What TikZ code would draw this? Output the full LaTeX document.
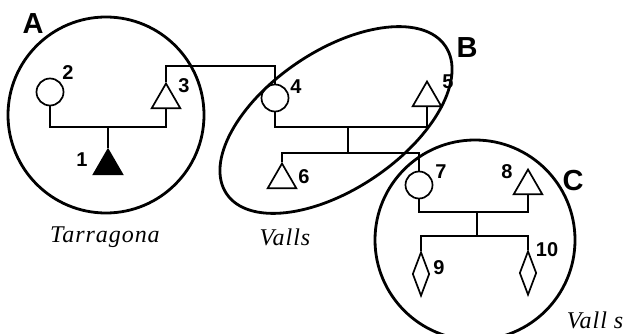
\documentclass[tikz,border=0pt]{standalone}
\usepackage{fontspec}
\setmainfont{Liberation Serif}
\setsansfont{Liberation Sans}
\usepackage{tikz}
\usetikzlibrary{shapes.geometric,positioning}
\tikzset{
  groupring/.style={draw, line width=2.8pt, inner sep=0pt},
  femalenode/.style={circle, draw, line width=1.7pt, minimum size=27pt, inner sep=0pt},
  malenode/.style={regular polygon, regular polygon sides=3, draw, line width=1.7pt,
    minimum size=33pt, inner sep=0pt},
  probandnode/.style={malenode, fill=black},
  unknownnode/.style={diamond, draw, line width=1.7pt, aspect=0.38,
    minimum width=17pt, minimum height=44pt, inner sep=0pt},
  tie/.style={line width=2pt},
  numtext/.style={font=\sffamily\bfseries\fontsize{20}{20}\selectfont, inner sep=0pt},
  grouptext/.style={font=\sffamily\bfseries\fontsize{29}{29}\selectfont, inner sep=0pt},
  placetext/.style={font=\itshape\fontsize{24}{24}\selectfont\addfontfeature{LetterSpace=4}, inner sep=0pt}
}

\begin{document}
\begin{tikzpicture}[x=1pt, y=-1pt]
\useasboundingbox (0,0) rectangle (628,334);

% family groups
\node[groupring, circle, minimum size=196pt] (grpA) at (106,115) {};
\node[groupring, ellipse, rotate=34, minimum width=264pt, minimum height=138pt] (grpB) at (336,120) {};
\node[groupring, circle, minimum size=200pt] (grpC) at (475,240) {};
\node[grouptext] (labA) at (33,24) {A};
\node[grouptext] (labB) at (467,48) {B};
\node[grouptext] (labC) at (573,181) {C};

% Tarragona
\node[probandnode] (n1) at (108,166) {};
\node[femalenode] (n2) at (50,92) {};
\node[malenode] (n3) at (166,100) {};
% Valls
\node[femalenode] (n4) at (275,98) {};
\node[malenode] (n5) at (427,98) {};
\node[malenode] (n6) at (282,180) {};
% Vall s
\node[femalenode] (n7) at (419,185) {};
\node[malenode] (n8) at (528,186) {};
\node[unknownnode] (n9) at (421,274) {};
\node[unknownnode] (n10) at (528,273) {};

\node[numtext] (t1) at (82,160) {1};
\node[numtext] (t2) at (68,73) {2};
\node[numtext] (t3) at (184,86) {3};
\node[numtext] (t4) at (296,87) {4};
\node[numtext] (t5) at (448,82) {5};
\node[numtext] (t6) at (304,177) {6};
\node[numtext] (t7) at (441,172) {7};
\node[numtext] (t8) at (507,172) {8};
\node[numtext] (t9) at (439,268) {9};
\node[numtext] (t10) at (547,250) {10};

\node[placetext] (pA) at (105,237) {Tarragona};
\node[placetext] (pB) at (285,237) {Valls};
\node[placetext] (pC) at (595,320) {Vall s};

% lines of descent
\coordinate (mA) at (108,127);
\coordinate (kA) at (166,66);
\coordinate (mB) at (348,127);
\coordinate (sB) at (348,153);
\coordinate (mC) at (477,212);
\coordinate (sC) at (477,236);
\draw[tie] (n2.south) |- (mA) -| (n3.south);
\draw[tie] (mA) -- (n1.north);
\draw[tie] (n3.north) -- (kA) -| (n4.north);
\draw[tie] (n4.south) |- (mB) -| (n5.south);
\draw[tie] (mB) -- (sB);
\draw[tie] (n6.north) |- (sB) -| (n7.north);
\draw[tie] (n7.south) |- (mC) -| (n8.south);
\draw[tie] (mC) -- (sC);
\draw[tie] (n9.north) |- (sC) -| (n10.north);
\end{tikzpicture}
\end{document}
